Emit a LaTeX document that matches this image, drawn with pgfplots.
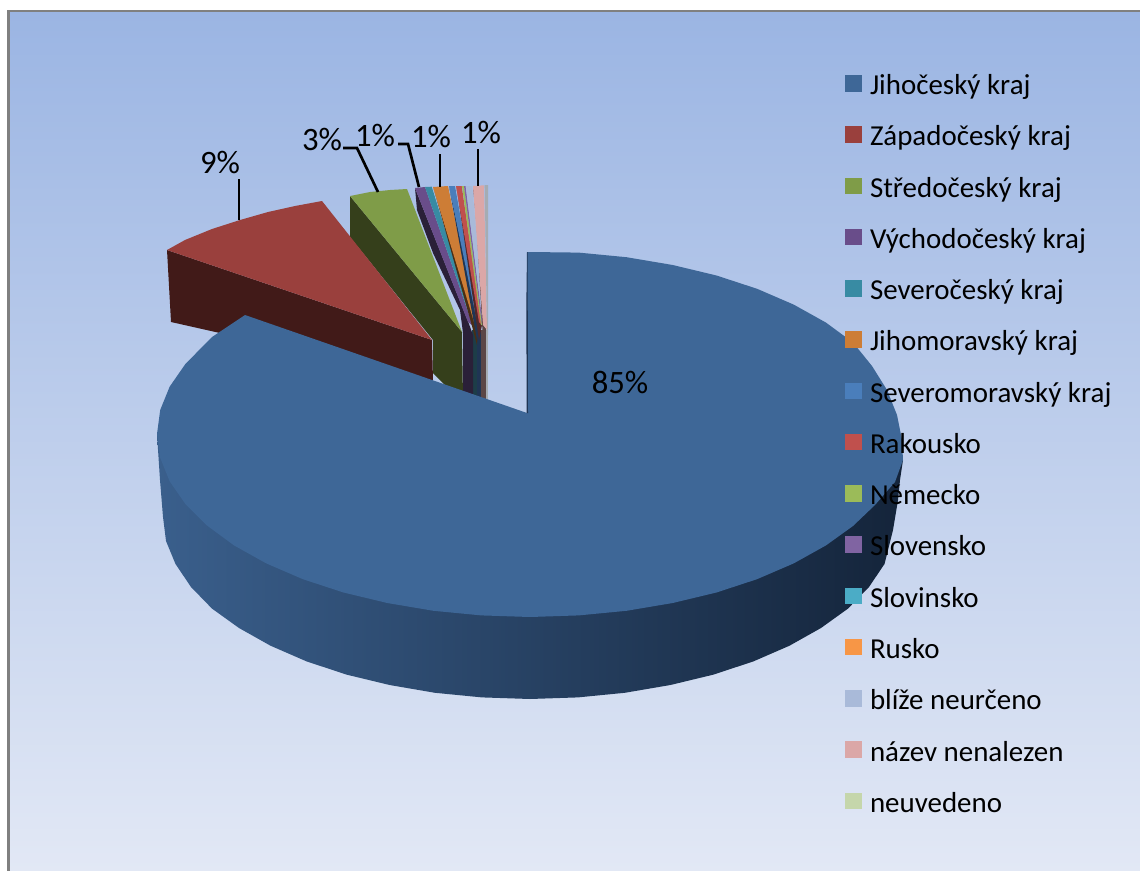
\documentclass[border=0pt]{standalone}
\usepackage{fontspec}
\setmainfont{Carlito}
\usepackage{pgfplots}
\pgfplotsset{compat=1.18}
\definecolor{bgtop}{HTML}{9BB5E3}\definecolor{bgbot}{HTML}{E2E8F5}
\definecolor{c1}{HTML}{3E6797}\definecolor{c2}{HTML}{9A403D}\definecolor{c3}{HTML}{7F9C48}
\definecolor{c4}{HTML}{694D8A}\definecolor{c5}{HTML}{388BA3}\definecolor{c6}{HTML}{CD7D36}
\definecolor{c7}{HTML}{4A7EBB}\definecolor{c8}{HTML}{C0504D}\definecolor{c9}{HTML}{9BBB59}
\definecolor{c10}{HTML}{8064A2}\definecolor{c11}{HTML}{4BACC6}\definecolor{c12}{HTML}{F79646}
\definecolor{c13}{HTML}{A9BAD9}\definecolor{c14}{HTML}{DBA7A7}\definecolor{c15}{HTML}{C5D6AB}
\definecolor{s2}{HTML}{411A18}\definecolor{s3}{HTML}{353F1B}\definecolor{s4}{HTML}{2A2038}
\definecolor{s5}{HTML}{1D3D48}\definecolor{s6}{HTML}{4A2E14}\definecolor{s7}{HTML}{1F3554}
\definecolor{s8}{HTML}{50282A}\definecolor{s14}{HTML}{5B4646}\definecolor{s15}{HTML}{A5ACB3}
\definecolor{wl}{HTML}{3A5F8C}\definecolor{wm}{HTML}{294666}\definecolor{wr}{HTML}{14243A}
\begin{document}
\begin{tikzpicture}
\begin{axis}[
  scale only axis, width=855pt, height=653.25pt,
  xmin=0, xmax=1140, ymin=0, ymax=871, y dir=reverse, hide axis,
  every axis plot/.append style={forget plot, draw=none, line width=0pt},
  legend image code/.code={\fill[#1] (0pt,-2.25pt) rectangle (12.75pt,10.15pt);\path (18.75pt,0pt);},
  legend cell align=left,
  legend style={at={(axis cs:845,75)}, anchor=north west, draw=none, fill=none,
    font=\fontsize{21.7pt}{24pt}\selectfont, row sep=19.8pt,
    inner sep=0pt, outer sep=0pt,
    nodes={inner sep=0pt, outer sep=0pt, text height=13pt, text depth=4pt}},
]
% page
\addplot[fill=white] coordinates {(0,0)(1140,0)(1140,871)(0,871)};
% background and frame
\addplot[top color=bgtop, bottom color=bgbot] coordinates {(10,12)(1140,12)(1140,871)(10,871)};
\addplot[fill=gray] coordinates {(7,10)(1140,10)(1140,12)(7,12)};
\addplot[fill=gray] coordinates {(7,10)(10,10)(10,871)(7,871)};
% Stredocesky kraj: side and top
\addplot[fill=s3] coordinates {(350,196)(462,332)(463,400)(445,385)(433,373)(433,340)(350,237)};
\addplot[fill=c3] coordinates {(350,196)(370,192)(390,190)(407,189)(462,332)};
% small slices: lower side stripes
\addplot[fill=s15] coordinates {(483,330)(488,330)(488,405)(483,405)};
\addplot[fill=s14] coordinates {(480,330)(486,330)(486,405)(480,405)};
\addplot[fill=s7] coordinates {(476,330)(481,330)(481,405)(476,405)};
\addplot[fill=s5] coordinates {(472,330)(477,330)(477,405)(472,405)};
% Vychodocesky kraj
\addplot[fill=s4] coordinates {(415,188)(417,210)(433,253)(460,310)(463,333)(463,400)(473,400)(473,335)(469,324)};
\addplot[fill=c4] coordinates {(415,188)(425,187)(473,326)(468,322)};
% Severocesky kraj
\addplot[fill=c5] coordinates {(425,187)(431.7,186.7)(476,328)(473,326)};
% Jihomoravsky kraj
\addplot[fill=s6] coordinates {(433,187)(436,197)(472,326)(477,345)(478,330)};
\addplot[fill=c6] coordinates {(433,187)(448,186)(478,328)(474,322)};
% Severomoravsky kraj
\addplot[fill=s7] coordinates {(449,186)(451,197)(477,340)(480,330)};
\addplot[fill=c7] coordinates {(449,186)(455,186)(480,326)(477,322)};
% Rakousko
\addplot[fill=s8] coordinates {(456,186)(458,197)(479,340)(482,325)};
\addplot[fill=c8] coordinates {(456,186)(461.7,186)(482,325)(479,322)};
% Nemecko, Slovensko
\addplot[fill=c9] coordinates {(462,186)(464,186)(482,325)(481,325)};
\addplot[fill=c10] coordinates {(464,186)(465.5,186)(483,325)(482,325)};
% blize neurceno
\addplot[fill=c13] coordinates {(466,186)(472,186)(485,325)(483,325)};
% nazev nenalezen
\addplot[fill=s14] coordinates {(473,186)(475,197)(483,340)(486,330)};
\addplot[fill=c14] coordinates {(473,186)(484,185.3)(487,330)(483,325)};
% neuvedeno
\addplot[fill=s15] coordinates {(484.7,185)(488,185)(488,335)(487,335)};
% Zapadocesky kraj: side and top
\addplot[fill=s2] coordinates {(167,250)(432,340)(433,381)(171,322)};
\addplot[fill=c2] coordinates {(167,250)(185,240)(212,229)(240,220)(268,212)(295,206)(322,201)(432,340)};
% Jihocesky kraj: wall
\addplot[left color=wl, middle color=wm, right color=wr] coordinates {
 (157,434)(160,480)(163,517)(166,541)(175.5,564)(191,587)(212,608.6)(239,628)(270.5,645.7)(306.6,661.4)
 (346.5,674.6)(389.6,685)(435,692.8)(482,697.4)(530,699)(577.9,697.4)(624.8,692.8)(670.4,685)(713.5,674.6)
 (753.4,661.4)(789.5,645.7)(821,628)(848,608.6)(869,587)(884.5,564)(893,530)(898,500)(900,480)(903,460)(530,430)};
% Jihocesky kraj: top
\addplot[fill=c1] coordinates {
 (527,252)(530,252)(578.7,252.6)(626.5,257.2)(672.7,265)(716.5,275.5)(757.1,288.8)(793.7,304.6)(826,322.6)(853,342.5)
 (872,366)(887,390)(897,415)(902,440)(903,460)(895,482)(875,505)(853,526)(826,545.4)(793.7,563.4)(757,579.2)
 (716.5,592.5)(672.7,603)(626.5,610.8)(578.7,615.4)(530,617)(481.3,615.4)(433.5,610.8)(387.3,603)(343.5,592.5)
 (302.9,579.2)(266.3,563.4)(234,545.4)(207,525.5)(185.4,504)(169.7,481.4)(160.2,457.9)(157,434)(160.2,410)
 (169.7,386.6)(185.4,364)(212,337)(245,315)(527,413)};
\addplot[fill=s7] coordinates {(526.4,300)(527,252)(527.6,252)(528,413)(526.6,413)};
% leader lines
\addplot[draw=black, line width=2pt] coordinates {(239,179)(239,220)};
\addplot[draw=black, line width=2pt] coordinates {(343,148)(357,148)(378,192)};
\addplot[draw=black, line width=2pt] coordinates {(398,144)(408,144)(419,187)};
\addplot[draw=black, line width=2pt] coordinates {(440,154)(440,187)};
\addplot[draw=black, line width=2pt] coordinates {(478,149)(478,186)};
% labels
\node[font=\fontsize{24.5pt}{26pt}\selectfont, inner sep=0pt] at (axis cs:220,162) {9\%};
\node[font=\fontsize{24.5pt}{26pt}\selectfont, inner sep=0pt] at (axis cs:322,139) {3\%};
\node[font=\fontsize{24.5pt}{26pt}\selectfont, inner sep=0pt] at (axis cs:375,135) {1\%};
\node[font=\fontsize{24.5pt}{26pt}\selectfont, inner sep=0pt] at (axis cs:431,136) {1\%};
\node[font=\fontsize{24.5pt}{26pt}\selectfont, inner sep=0pt] at (axis cs:481,132) {1\%};
\node[font=\fontsize{24.5pt}{26pt}\selectfont, inner sep=0pt] at (axis cs:620,382) {85\%};
% legend
\addlegendimage{fill=c1}\addlegendentry{Jihočeský kraj}
\addlegendimage{fill=c2}\addlegendentry{Západočeský kraj}
\addlegendimage{fill=c3}\addlegendentry{Středočeský kraj}
\addlegendimage{fill=c4}\addlegendentry{Východočeský kraj}
\addlegendimage{fill=c5}\addlegendentry{Severočeský kraj}
\addlegendimage{fill=c6}\addlegendentry{Jihomoravský kraj}
\addlegendimage{fill=c7}\addlegendentry{Severomoravský kraj}
\addlegendimage{fill=c8}\addlegendentry{Rakousko}
\addlegendimage{fill=c9}\addlegendentry{Německo}
\addlegendimage{fill=c10}\addlegendentry{Slovensko}
\addlegendimage{fill=c11}\addlegendentry{Slovinsko}
\addlegendimage{fill=c12}\addlegendentry{Rusko}
\addlegendimage{fill=c13}\addlegendentry{blíže neurčeno}
\addlegendimage{fill=c14}\addlegendentry{název nenalezen}
\addlegendimage{fill=c15}\addlegendentry{neuvedeno}
\end{axis}
\end{tikzpicture}
\end{document}
